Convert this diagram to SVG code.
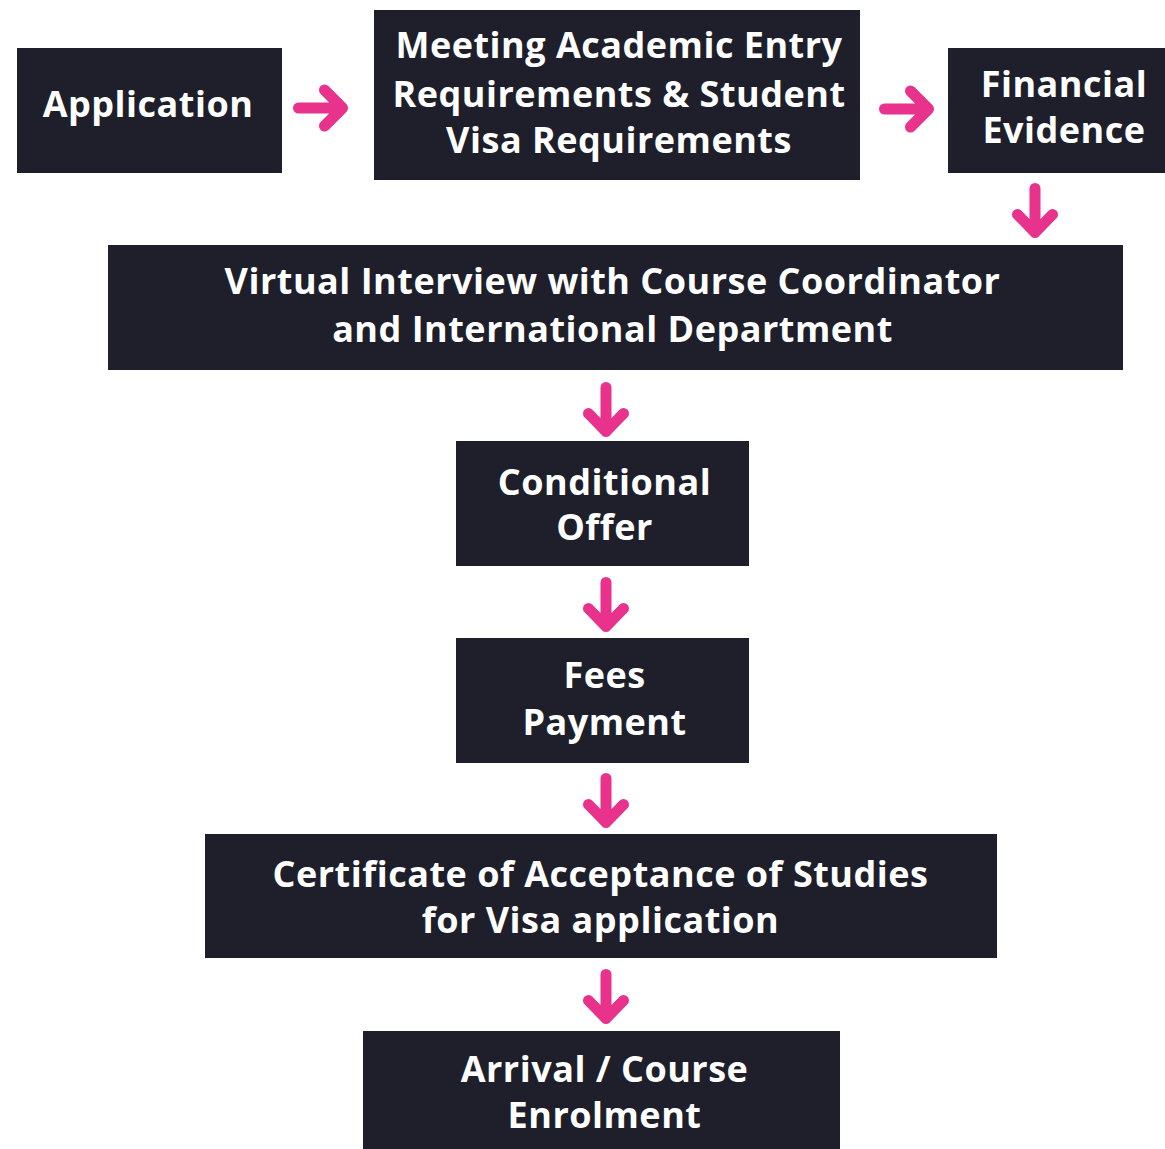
<svg xmlns="http://www.w3.org/2000/svg" width="1165" height="1149" viewBox="0 0 1165 1149">
<defs>
<style>
.box{fill:#1e1f2b}
.t{fill:#ffffff;font-family:"Open Sans","DejaVu Sans",sans-serif;font-weight:700;font-size:36px;letter-spacing:0.5px;text-anchor:middle}
.arr{fill:none;stroke:#e8328c;stroke-width:11;stroke-linecap:round;stroke-linejoin:round}
</style>
</defs>
<rect width="1165" height="1149" fill="#ffffff"/>
<g id="node-application">
<rect class="box" x="17" y="48" width="265" height="125"/>
<text class="t" x="148" y="117">Application</text>
</g>
<g id="node-meeting">
<rect class="box" x="374" y="10" width="486" height="170"/>
<text class="t" x="619" y="58">Meeting Academic Entry</text>
<text class="t" x="619" y="107">Requirements &amp; Student</text>
<text class="t" x="619" y="153">Visa Requirements</text>
</g>
<g id="node-financial">
<rect class="box" x="948" y="48" width="217" height="125"/>
<text class="t" x="1064" y="97">Financial</text>
<text class="t" x="1064" y="143">Evidence</text>
</g>
<g id="node-interview">
<rect class="box" x="108" y="245" width="1015" height="125"/>
<text class="t" x="612.5" y="294">Virtual Interview with Course Coordinator</text>
<text class="t" x="612.5" y="342">and International Department</text>
</g>
<g id="node-offer">
<rect class="box" x="456" y="441" width="293" height="125"/>
<text class="t" x="604.5" y="495">Conditional</text>
<text class="t" x="604.5" y="540">Offer</text>
</g>
<g id="node-fees">
<rect class="box" x="456" y="638" width="293" height="125"/>
<text class="t" x="604.5" y="688">Fees</text>
<text class="t" x="604.5" y="735">Payment</text>
</g>
<g id="node-cas">
<rect class="box" x="205" y="834" width="792" height="124"/>
<text class="t" x="600.5" y="887">Certificate of Acceptance of Studies</text>
<text class="t" x="600.5" y="933">for Visa application</text>
</g>
<g id="node-arrival">
<rect class="box" x="363" y="1031" width="477" height="118"/>
<text class="t" x="604.5" y="1082">Arrival / Course</text>
<text class="t" x="604.5" y="1128">Enrolment</text>
</g>
<g id="connectors">
<path class="arr" d="M298.5,108 H342.5 M324.5,90 L342.5,108 L324.5,126"/>
<path class="arr" d="M884.5,109 H928.5 M910.5,91 L928.5,109 L910.5,127"/>
<path class="arr" d="M1035,188.5 V232.5 M1017.5,214.5 L1035,232.5 L1052.5,214.5"/>
<path class="arr" d="M606,387.5 V431.5 M588.5,413.5 L606,431.5 L623.5,413.5"/>
<path class="arr" d="M606,582.5 V626.5 M588.5,608.5 L606,626.5 L623.5,608.5"/>
<path class="arr" d="M606,778.5 V822.5 M588.5,804.5 L606,822.5 L623.5,804.5"/>
<path class="arr" d="M606,974.5 V1018.5 M588.5,1000.5 L606,1018.5 L623.5,1000.5"/>
</g>
</svg>
